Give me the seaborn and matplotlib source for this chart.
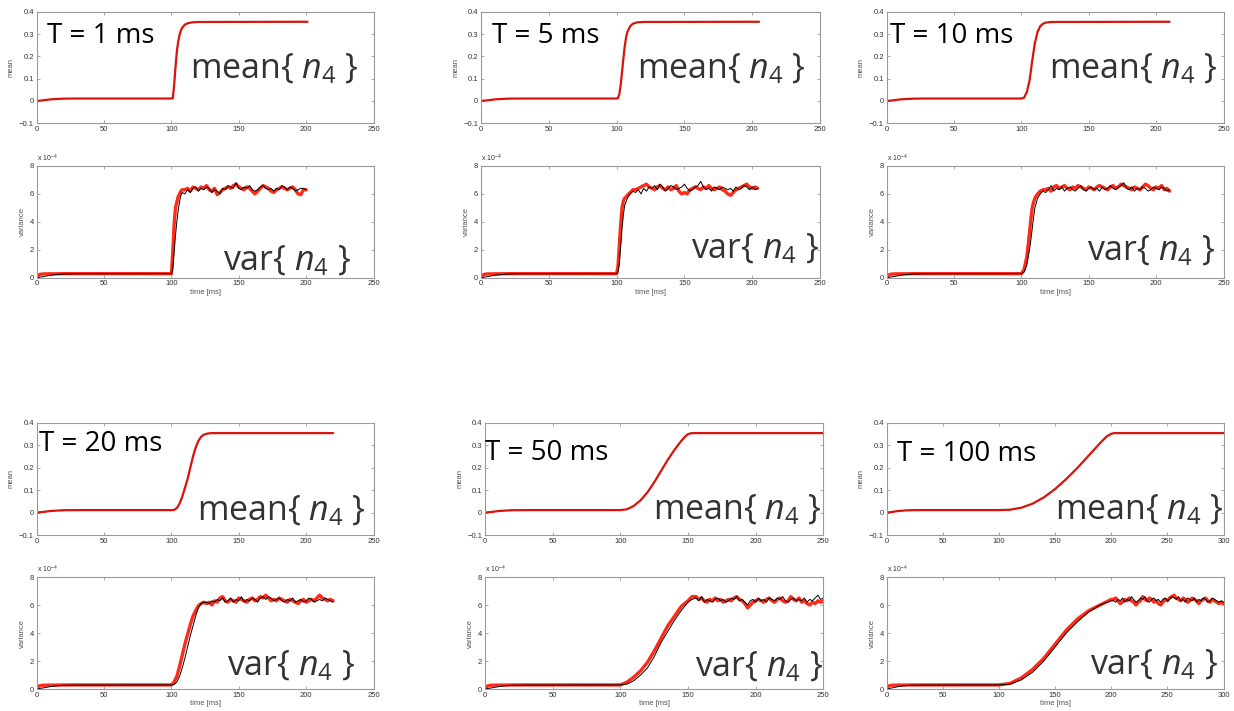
import numpy as np
import pandas as pd
import matplotlib
matplotlib.use("Agg")
import matplotlib.pyplot as plt
import seaborn as sns

# ---------------- data ----------------
T_LABELS = ["T = 1 ms", "T = 5 ms", "T = 10 ms", "T = 20 ms", "T = 50 ms", "T = 100 ms"]
X_MAX = [250, 250, 250, 250, 250, 300]

# mean{n4}
MEAN1_T = [0, 5, 10, 15, 20, 30, 100, 101, 102, 103, 104, 105, 106, 107, 108, 110, 112, 115, 120, 201]
MEAN1 = [0.0, 0.003, 0.007, 0.009, 0.0105, 0.011, 0.011, 0.012, 0.07, 0.15, 0.22, 0.265, 0.295, 0.315, 0.328, 0.342, 0.348, 0.352, 0.354, 0.355]
MEAN5_T = [0, 5, 10, 15, 20, 30, 100, 101, 102, 103, 104, 105, 106, 107, 108, 110, 112, 115, 120, 205]
MEAN5 = [0.0, 0.003, 0.007, 0.009, 0.0105, 0.011, 0.011, 0.013, 0.03, 0.07, 0.13, 0.19, 0.245, 0.285, 0.31, 0.335, 0.346, 0.352, 0.354, 0.355]
MEAN10_T = [0, 5, 10, 15, 20, 30, 100, 102, 104, 106, 108, 110, 112, 114, 116, 118, 122, 210]
MEAN10 = [0.0, 0.003, 0.007, 0.009, 0.0105, 0.011, 0.011, 0.015, 0.04, 0.09, 0.18, 0.26, 0.31, 0.335, 0.346, 0.351, 0.354, 0.355]
MEAN20_T = [0, 5, 10, 15, 20, 30, 100, 102, 104, 106, 108, 110, 112, 114, 116, 118, 120, 122, 124, 127, 130, 220]
MEAN20 = [0.0, 0.003, 0.007, 0.009, 0.0105, 0.011, 0.011, 0.012, 0.02, 0.04, 0.07, 0.11, 0.15, 0.2, 0.25, 0.29, 0.32, 0.338, 0.348, 0.353, 0.355, 0.355]
MEAN50_T = [0, 5, 10, 15, 20, 30, 100, 105, 110, 115, 120, 125, 130, 135, 140, 145, 148, 150, 152, 155, 250]
MEAN50 = [0.0, 0.003, 0.007, 0.009, 0.0105, 0.011, 0.011, 0.015, 0.03, 0.055, 0.09, 0.135, 0.185, 0.235, 0.28, 0.32, 0.34, 0.35, 0.354, 0.355, 0.355]
MEAN100_T = [0, 5, 10, 15, 20, 30, 100, 110, 120, 130, 140, 150, 160, 170, 180, 190, 196, 200, 203, 300]
MEAN100 = [0.0, 0.003, 0.007, 0.009, 0.0105, 0.011, 0.011, 0.013, 0.022, 0.04, 0.068, 0.105, 0.15, 0.2, 0.255, 0.31, 0.34, 0.352, 0.355, 0.355]

# var{n4}  (units of 1e-4): early part shared shape, then rise, then plateau sampled every 2 ms
VAR_EARLY_T = [0, 1, 2, 3, 5, 10, 15, 20, 30, 100]
VAR_EARLY_RED = [0.0, 0.15, 0.22, 0.25, 0.27, 0.28, 0.28, 0.29, 0.29, 0.29]
VAR_EARLY_BLACK = [0.0, 0.01, 0.03, 0.05, 0.08, 0.17, 0.23, 0.26, 0.28, 0.29]

VAR1_RISE_T = [101, 102, 103, 104, 105, 106, 107, 108]
VAR1_RISE_RED = [1.8, 3.8, 5.0, 5.4, 5.8, 6.0, 6.2, 6.3]
VAR1_RISE_BLACK = [0.6, 1.8, 3.0, 4.0, 4.8, 5.4, 5.9, 6.1]
VAR1_PLAT_START = 110
VAR1_PLAT_RED = [6.3, 6.4, 6.2, 6.5, 6.4, 6.3, 6.5, 6.4, 6.6, 6.3, 6.2, 6.4, 5.95, 6.1, 6.3, 6.4, 6.5, 6.4, 6.6, 6.7, 6.5, 6.4, 6.3, 6.5, 6.4, 6.2, 6.0, 6.2, 6.4, 6.6, 6.5, 6.4, 6.2, 6.1, 6.3, 6.4, 6.5, 6.4, 6.3, 6.4, 6.5, 6.3, 6.0, 5.95, 6.3, 6.3]
VAR1_PLAT_BLACK = [6.0, 6.3, 6.1, 6.4, 6.5, 6.2, 6.4, 6.3, 6.5, 6.4, 6.1, 6.3, 6.2, 6.0, 6.4, 6.3, 6.6, 6.5, 6.4, 6.8, 6.4, 6.3, 6.5, 6.4, 6.6, 6.3, 6.2, 6.3, 6.5, 6.6, 6.4, 6.3, 6.4, 6.2, 6.4, 6.3, 6.6, 6.5, 6.3, 6.5, 6.4, 6.2, 6.3, 6.4, 6.4, 6.3]

VAR5_RISE_T = [101, 102, 103, 104, 105, 106, 108, 110, 112]
VAR5_RISE_RED = [0.8, 2.3, 3.8, 5.0, 5.5, 5.7, 5.9, 6.1, 6.3]
VAR5_RISE_BLACK = [0.4, 1.0, 2.2, 3.5, 4.5, 5.2, 5.7, 6.0, 6.2]
VAR5_PLAT_START = 114
VAR5_PLAT_RED = [6.3, 6.4, 6.5, 6.6, 6.7, 6.5, 6.4, 6.3, 6.5, 6.6, 6.4, 6.3, 6.5, 6.3, 6.4, 6.6, 6.2, 6.0, 6.1, 6.0, 6.3, 6.4, 6.5, 6.4, 6.3, 6.5, 6.4, 6.6, 6.4, 6.3, 6.4, 6.5, 6.3, 6.2, 6.0, 5.9, 6.1, 6.3, 6.4, 6.5, 6.6, 6.7, 6.5, 6.4, 6.5, 6.4]
VAR5_PLAT_BLACK = [6.1, 6.3, 6.0, 6.4, 6.2, 6.5, 6.4, 6.6, 6.3, 6.7, 6.5, 6.2, 6.4, 6.6, 6.5, 6.3, 6.4, 6.5, 6.7, 6.4, 6.2, 6.3, 6.5, 6.6, 6.9, 6.5, 6.3, 6.4, 6.2, 6.5, 6.4, 6.3, 6.5, 6.4, 6.3, 6.4, 6.2, 6.5, 6.3, 6.4, 6.6, 6.5, 6.3, 6.5, 6.3, 6.4]

VAR10_RISE_T = [102, 104, 106, 107, 108, 109, 110, 112, 114, 116]
VAR10_RISE_RED = [0.6, 1.5, 3.2, 4.2, 5.0, 5.4, 5.7, 6.0, 6.2, 6.3]
VAR10_RISE_BLACK = [0.4, 0.9, 2.0, 2.7, 3.5, 4.3, 5.0, 5.7, 6.0, 6.2]
VAR10_PLAT_START = 118
VAR10_PLAT_RED = [6.3, 6.4, 6.2, 6.5, 6.6, 6.4, 6.5, 6.6, 6.4, 6.3, 6.5, 6.4, 6.6, 6.5, 6.4, 6.3, 6.5, 6.4, 6.3, 6.5, 6.6, 6.5, 6.4, 6.3, 6.5, 6.6, 6.4, 6.5, 6.7, 6.6, 6.5, 6.4, 6.3, 6.5, 6.4, 6.3, 6.5, 6.7, 6.6, 6.4, 6.3, 6.5, 6.4, 6.6, 6.3, 6.4, 6.2]
VAR10_PLAT_BLACK = [6.1, 6.3, 6.6, 6.2, 6.4, 6.3, 6.5, 6.2, 6.4, 6.5, 6.3, 6.2, 6.4, 6.6, 6.3, 6.2, 6.4, 6.5, 6.3, 6.4, 6.2, 6.5, 6.3, 6.4, 6.6, 6.4, 6.3, 6.5, 6.6, 6.8, 6.4, 6.3, 6.5, 6.2, 6.4, 6.3, 6.5, 6.4, 6.2, 6.3, 6.5, 6.4, 6.3, 6.5, 6.4, 6.2, 6.3]

VAR20_RISE_T = [102, 104, 106, 108, 110, 112, 114, 116, 118, 120, 122, 124]
VAR20_RISE_RED = [0.5, 0.9, 1.6, 2.4, 3.2, 3.9, 4.6, 5.2, 5.6, 5.95, 6.1, 6.2]
VAR20_RISE_BLACK = [0.32, 0.5, 0.9, 1.5, 2.2, 3.0, 3.8, 4.5, 5.2, 5.8, 6.1, 6.2]
VAR20_PLAT_START = 126
VAR20_PLAT_RED = [6.1, 6.2, 6.0, 6.3, 6.2, 6.5, 6.6, 6.3, 6.2, 6.4, 6.3, 6.2, 6.5, 6.4, 6.3, 6.2, 6.4, 6.5, 6.3, 6.4, 6.6, 6.5, 6.7, 6.5, 6.3, 6.4, 6.3, 6.5, 6.4, 6.3, 6.2, 6.4, 6.3, 6.2, 6.1, 6.3, 6.4, 6.2, 6.3, 6.4, 6.3, 6.5, 6.7, 6.5, 6.4, 6.3, 6.4, 6.3]
VAR20_PLAT_BLACK = [6.2, 6.1, 6.3, 6.2, 6.4, 6.3, 6.5, 6.2, 6.3, 6.5, 6.2, 6.4, 6.3, 6.6, 6.2, 6.4, 6.3, 6.5, 6.4, 6.2, 6.5, 6.6, 6.4, 6.6, 6.5, 6.3, 6.4, 6.5, 6.3, 6.2, 6.4, 6.3, 6.5, 6.2, 6.3, 6.4, 6.2, 6.3, 6.5, 6.4, 6.2, 6.3, 6.4, 6.3, 6.5, 6.4, 6.3, 6.2]

VAR50_RISE_T = [105, 110, 115, 120, 125, 130, 135, 140, 145, 150, 153]
VAR50_RISE_RED = [0.5, 0.85, 1.3, 1.9, 2.7, 3.6, 4.5, 5.2, 5.9, 6.3, 6.6]
VAR50_RISE_BLACK = [0.35, 0.6, 1.0, 1.5, 2.3, 3.3, 4.1, 4.9, 5.6, 6.2, 6.4]
VAR50_PLAT_START = 156
VAR50_PLAT_RED = [6.6, 6.4, 6.5, 6.3, 6.2, 6.4, 6.3, 6.5, 6.3, 6.4, 6.2, 6.3, 6.4, 6.3, 6.5, 6.6, 6.4, 6.3, 6.1, 5.8, 6.0, 6.2, 6.3, 6.4, 6.3, 6.2, 6.4, 6.5, 6.3, 6.2, 6.4, 6.5, 6.3, 6.2, 6.3, 6.6, 6.4, 6.3, 6.5, 6.2, 6.3, 6.1, 6.0, 6.2, 6.1, 6.3, 6.2, 6.3]
VAR50_PLAT_BLACK = [6.5, 6.3, 6.6, 6.2, 6.4, 6.3, 6.2, 6.4, 6.5, 6.3, 6.4, 6.2, 6.3, 6.5, 6.4, 6.6, 6.3, 6.4, 6.2, 6.0, 6.3, 6.4, 6.2, 6.5, 6.3, 6.4, 6.2, 6.5, 6.4, 6.3, 6.5, 6.4, 6.6, 6.3, 6.2, 6.4, 6.5, 6.3, 6.4, 6.3, 6.5, 6.2, 6.4, 6.3, 6.5, 6.7, 6.4, 6.5]

VAR100_RISE_T = [110, 120, 130, 140, 150, 160, 170, 180, 190, 200]
VAR100_RISE_RED = [0.4, 0.8, 1.4, 2.2, 3.2, 4.2, 5.0, 5.6, 6.0, 6.4]
VAR100_RISE_BLACK = [0.35, 0.65, 1.2, 2.0, 3.0, 4.0, 4.8, 5.5, 6.0, 6.3]
VAR100_PLAT_START = 202
VAR100_PLAT_RED = [6.4, 6.5, 6.3, 6.1, 6.2, 6.4, 6.3, 6.5, 6.3, 6.2, 6.0, 6.2, 6.3, 6.6, 6.4, 6.3, 6.5, 6.4, 6.2, 6.3, 6.1, 6.0, 6.2, 6.4, 6.3, 6.5, 6.6, 6.7, 6.5, 6.4, 6.3, 6.5, 6.4, 6.2, 6.3, 6.5, 6.4, 6.3, 6.1, 6.3, 6.4, 6.5, 6.3, 6.2, 6.4, 6.3, 6.2, 6.1, 6.2, 6.1]
VAR100_PLAT_BLACK = [6.3, 6.2, 6.4, 6.3, 6.5, 6.2, 6.4, 6.3, 6.6, 6.4, 6.2, 6.3, 6.5, 6.4, 6.6, 6.3, 6.2, 6.4, 6.5, 6.3, 6.4, 6.2, 6.4, 6.5, 6.3, 6.4, 6.6, 6.5, 6.4, 6.6, 6.3, 6.4, 6.2, 6.5, 6.4, 6.3, 6.5, 6.2, 6.4, 6.3, 6.5, 6.4, 6.2, 6.3, 6.5, 6.4, 6.3, 6.2, 6.3, 6.2]
PLAT_STEP = 2

# ---------------- styling ----------------
sns.set_style("white")
plt.rcParams['font.family'] = ['Liberation Sans', 'DejaVu Sans']
plt.rcParams['mathtext.fontset'] = 'custom'
plt.rcParams['mathtext.rm'] = 'Open Sans'
plt.rcParams['mathtext.it'] = 'Open Sans:italic'

RED_MEAN = '#d8140c'
RED_VAR = '#ff2a18'
SPINE = '#9a9a9a'
TXT = '#333333'
W, H = 1234, 711

fig = plt.figure(figsize=(W / 100, H / 100), dpi=100)

# pixel boxes (left, right, top, bottom)
COLS_R1 = [(36.7, 373.5), (481, 820), (886.7, 1223.5)]
COLS_R2 = [(36.7, 373.5), (485, 823.3), (886.7, 1223.5)]
ROWS = [((11.7, 123.3), (166, 277.7)), ((423, 535), (577, 689))]

# annotation positions (axes fraction): T label, mean label, var label
T_POS = [(0.03, 0.72), (0.032, 0.72), (0.01, 0.72), (0.007, 0.75), (0.0, 0.674), (0.03, 0.66)]
MEAN_POS = [(0.455, 0.40), (0.459, 0.40), (0.483, 0.40), (0.475, 0.135), (0.497, 0.14), (0.5, 0.14)]
VAR_POS = [(0.554, 0.07), (0.62, 0.17), (0.595, 0.16), (0.565, 0.126), (0.62, 0.11), (0.603, 0.134)]

means = [(MEAN1_T, MEAN1), (MEAN5_T, MEAN5), (MEAN10_T, MEAN10),
         (MEAN20_T, MEAN20), (MEAN50_T, MEAN50), (MEAN100_T, MEAN100)]
vars_ = [(VAR1_RISE_T, VAR1_RISE_RED, VAR1_RISE_BLACK, VAR1_PLAT_START, VAR1_PLAT_RED, VAR1_PLAT_BLACK),
         (VAR5_RISE_T, VAR5_RISE_RED, VAR5_RISE_BLACK, VAR5_PLAT_START, VAR5_PLAT_RED, VAR5_PLAT_BLACK),
         (VAR10_RISE_T, VAR10_RISE_RED, VAR10_RISE_BLACK, VAR10_PLAT_START, VAR10_PLAT_RED, VAR10_PLAT_BLACK),
         (VAR20_RISE_T, VAR20_RISE_RED, VAR20_RISE_BLACK, VAR20_PLAT_START, VAR20_PLAT_RED, VAR20_PLAT_BLACK),
         (VAR50_RISE_T, VAR50_RISE_RED, VAR50_RISE_BLACK, VAR50_PLAT_START, VAR50_PLAT_RED, VAR50_PLAT_BLACK),
         (VAR100_RISE_T, VAR100_RISE_RED, VAR100_RISE_BLACK, VAR100_PLAT_START, VAR100_PLAT_RED, VAR100_PLAT_BLACK)]


def make_ax(l, r, t, b):
    return fig.add_axes([l / W, 1 - b / H, (r - l) / W, (b - t) / H])


def fmt(v, _):
    s = '%g' % round(v, 3)
    return s.replace('-', '\u2212')


def style(ax, xmax):
    ax.set_xlim(0, xmax)
    ax.set_xticks(np.arange(0, xmax + 1, 50))
    for sp in ax.spines.values():
        sp.set_visible(True)
        sp.set_color(SPINE)
        sp.set_linewidth(0.8)
    ax.tick_params(direction='in', length=2.5, width=0.6, color=SPINE,
                   labelcolor=TXT, labelsize=5.5, top=True, right=True,
                   bottom=True, left=True, pad=2)
    ax.yaxis.set_major_formatter(matplotlib.ticker.FuncFormatter(fmt))
    ax.set_facecolor('white')


for i in range(6):
    row, col = divmod(i, 3)
    cols = COLS_R1 if row == 0 else COLS_R2
    l, r = cols[col]
    (mt, mb), (vt, vb) = ROWS[row]

    # mean axes
    axm = make_ax(l, r, mt, mb)
    mt_, mv_ = means[i]
    sns.lineplot(x=mt_, y=mv_, ax=axm, color='black', linewidth=0.6, estimator=None, sort=False)
    sns.lineplot(x=mt_, y=mv_, ax=axm, color=RED_MEAN, linewidth=1.6, estimator=None, sort=False)
    style(axm, X_MAX[i])
    axm.set_ylim(-0.1, 0.4)
    axm.set_yticks([-0.1, 0, 0.1, 0.2, 0.3, 0.4])
    axm.set_ylabel('mean', fontsize=5.5, color='#555555', labelpad=3)
    axm.set_xlabel('')
    axm.text(T_POS[i][0], T_POS[i][1], T_LABELS[i], transform=axm.transAxes,
             fontsize=20, family='Open Sans', color='black', va='baseline', ha='left')
    axm.text(MEAN_POS[i][0], MEAN_POS[i][1], r'mean{ $n_4$ }', transform=axm.transAxes,
             fontsize=24.5, family='Open Sans', color=TXT, va='baseline', ha='left')

    # variance axes
    axv = make_ax(l, r, vt, vb)
    rt, rr, rb, ps, pr, pb = vars_[i]
    t_red = list(VAR_EARLY_T) + list(rt) + list(ps + PLAT_STEP * np.arange(len(pr)))
    v_red = list(VAR_EARLY_RED) + list(rr) + list(pr)
    t_blk = list(VAR_EARLY_T) + list(rt) + list(ps + PLAT_STEP * np.arange(len(pb)))
    v_blk = list(VAR_EARLY_BLACK) + list(rb) + list(pb)
    sns.lineplot(x=t_red, y=v_red, ax=axv, color=RED_VAR, linewidth=2.4, estimator=None, sort=False)
    sns.lineplot(x=t_blk, y=v_blk, ax=axv, color='black', linewidth=0.7, estimator=None, sort=False)
    style(axv, X_MAX[i])
    axv.set_ylim(0, 8)
    axv.set_yticks([0, 2, 4, 6, 8])
    axv.set_ylabel('variance', fontsize=5.5, color='#555555', labelpad=3)
    axv.set_xlabel('time [ms]', fontsize=5.5, color='#555555', labelpad=1)
    axv.text(0.0, 1.015, r'x 10$^{-4}$', transform=axv.transAxes, fontsize=5,
             color=TXT, va='bottom', ha='left', family='Liberation Sans')
    axv.text(VAR_POS[i][0], VAR_POS[i][1], r'var{ $n_4$ }', transform=axv.transAxes,
             fontsize=24.5, family='Open Sans', color=TXT, va='baseline', ha='left')

fig.savefig('out.png', dpi=100, facecolor='white')
